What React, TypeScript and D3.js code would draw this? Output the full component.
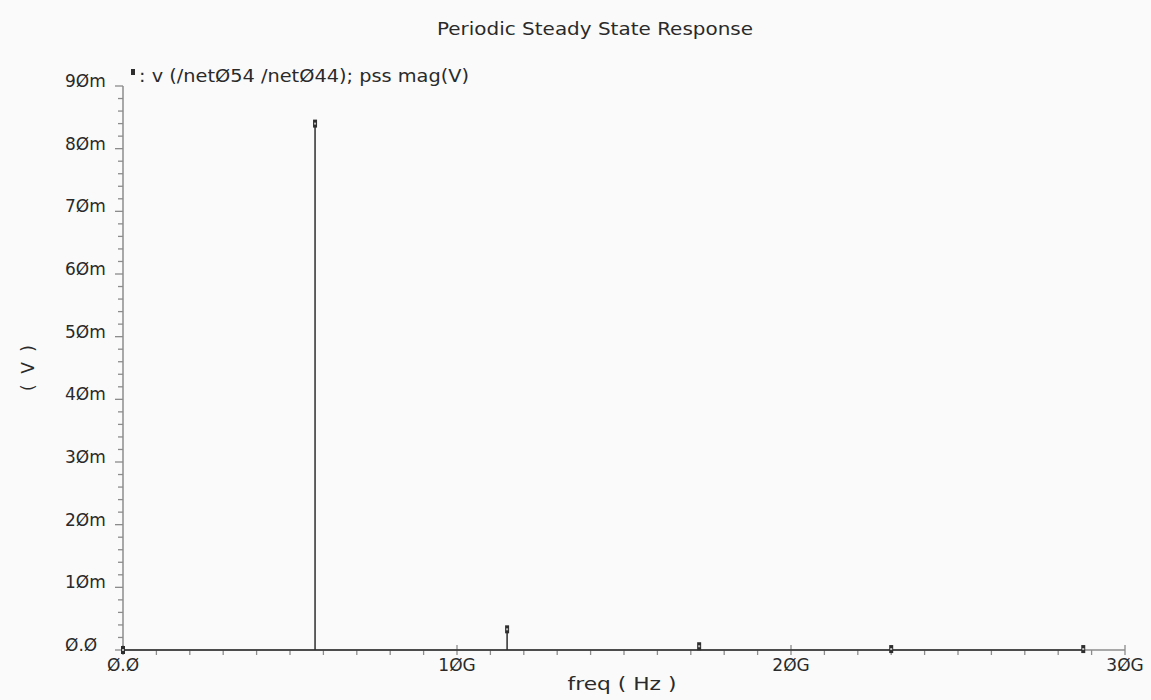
import { useEffect, useRef } from "react";
import * as d3 from "d3";

// harmonic frequencies (GHz) and pss magnitude (mV)
const freqs = [0, 5.75, 11.5, 17.25, 23.0, 28.75];
const mags = [0.0, 84.0, 3.3, 0.6, 0.15, 0.15];

const xTickLabels = ["Ø.Ø", "1ØG", "2ØG", "3ØG"];
const yTickLabels = ["Ø.Ø", "1Øm", "2Øm", "3Øm", "4Øm", "5Øm", "6Øm", "7Øm", "8Øm", "9Øm"];

const title = "Periodic Steady State Response";
const legend = ": v (/netØ54 /netØ44); pss mag(V)";
const xTitle = "freq ( Hz )";
const yTitle = "( V )";

export default function App() {
  const ref = useRef<SVGSVGElement>(null);

  const W = 1151;
  const H = 700;
  const font = "'DejaVu Sans', sans-serif";
  const textColor = "#2a2a2a";
  const axisColor = "#8c8c8c";
  const dataColor = "#2e2e2e";

  useEffect(() => {
    const svg = d3.select(ref.current);
    svg.selectAll("*").remove();

    svg.append("rect").attr("width", W).attr("height", H).attr("fill", "#fafafa");

    const x = d3.scaleLinear().domain([0, 30]).range([123, 1125]);
    const y = d3.scaleLinear().domain([0, 90]).range([650, 86]);

    const g = svg.append("g");

    // y axis line + ticks
    g.append("line")
      .attr("x1", x(0)).attr("x2", x(0))
      .attr("y1", y(90)).attr("y2", y(0))
      .attr("stroke", axisColor).attr("stroke-width", 1.5);

    d3.range(0, 91, 2).forEach((v) => {
      const major = v % 10 === 0;
      g.append("line")
        .attr("x1", x(0) - (major ? 8 : 5)).attr("x2", x(0))
        .attr("y1", y(v)).attr("y2", y(v))
        .attr("stroke", axisColor).attr("stroke-width", 1.3);
    });

    y.ticks(9).forEach((v, i) => {
      g.append("text")
        .attr("x", 65).attr("y", y(v) + 1)
        .attr("font-family", font).attr("font-size", 17)
        .attr("fill", textColor)
        .text(yTickLabels[i]);
    });

    // x axis line + ticks
    g.append("line")
      .attr("x1", x(0)).attr("x2", x(30))
      .attr("y1", y(0)).attr("y2", y(0))
      .attr("stroke", axisColor).attr("stroke-width", 1.5);

    d3.range(0, 31, 1).forEach((v) => {
      const major = v % 10 === 0;
      g.append("line")
        .attr("x1", x(v)).attr("x2", x(v))
        .attr("y1", y(0) - (major ? 5 : 0)).attr("y2", y(0) + 5)
        .attr("stroke", axisColor).attr("stroke-width", 1.3);
    });

    x.ticks(3).forEach((v, i) => {
      g.append("text")
        .attr("x", x(v)).attr("y", 671)
        .attr("text-anchor", "middle")
        .attr("font-family", font).attr("font-size", 17)
        .attr("fill", textColor)
        .text(xTickLabels[i]);
    });

    // data: baseline trace + stems + markers
    g.append("line")
      .attr("x1", x(freqs[0])).attr("x2", x(freqs[freqs.length - 1]))
      .attr("y1", y(0)).attr("y2", y(0))
      .attr("stroke", dataColor).attr("stroke-width", 1.5);

    freqs.forEach((f, i) => {
      g.append("line")
        .attr("x1", x(f)).attr("x2", x(f))
        .attr("y1", y(0)).attr("y2", y(mags[i]))
        .attr("stroke", dataColor).attr("stroke-width", 1.5);
      g.append("rect")
        .attr("x", x(f) - 2).attr("y", y(mags[i]) - 4)
        .attr("width", 4).attr("height", 8)
        .attr("fill", dataColor);
      g.append("rect")
        .attr("x", x(f) - 1).attr("y", y(mags[i]) - 1)
        .attr("width", 2).attr("height", 2)
        .attr("fill", "#bbb");
    });

    // title
    svg.append("text")
      .attr("x", 595).attr("y", 35)
      .attr("text-anchor", "middle")
      .attr("font-family", font).attr("font-size", 17)
      .attr("textLength", 316).attr("lengthAdjust", "spacingAndGlyphs")
      .attr("fill", textColor)
      .text(title);

    // legend
    svg.append("rect")
      .attr("x", 131).attr("y", 69).attr("width", 4).attr("height", 6)
      .attr("fill", dataColor);
    svg.append("text")
      .attr("x", 139).attr("y", 82)
      .attr("font-family", font).attr("font-size", 17)
      .attr("textLength", 330).attr("lengthAdjust", "spacingAndGlyphs")
      .attr("fill", textColor)
      .text(legend);

    // axis titles
    svg.append("text")
      .attr("x", 622).attr("y", 690)
      .attr("text-anchor", "middle")
      .attr("font-family", font).attr("font-size", 17)
      .attr("textLength", 109).attr("lengthAdjust", "spacingAndGlyphs")
      .attr("fill", textColor)
      .text(xTitle);

    svg.append("text")
      .attr("transform", "translate(34,368) rotate(-90)")
      .attr("text-anchor", "middle")
      .attr("font-family", font).attr("font-size", 17)
      .attr("textLength", 46).attr("lengthAdjust", "spacing")
      .attr("fill", textColor)
      .text(yTitle);
  }, []);

  return (
    <svg
      ref={ref}
      width={W}
      height={H}
      style={{ position: "absolute", left: 0, top: 0 }}
    />
  );
}
